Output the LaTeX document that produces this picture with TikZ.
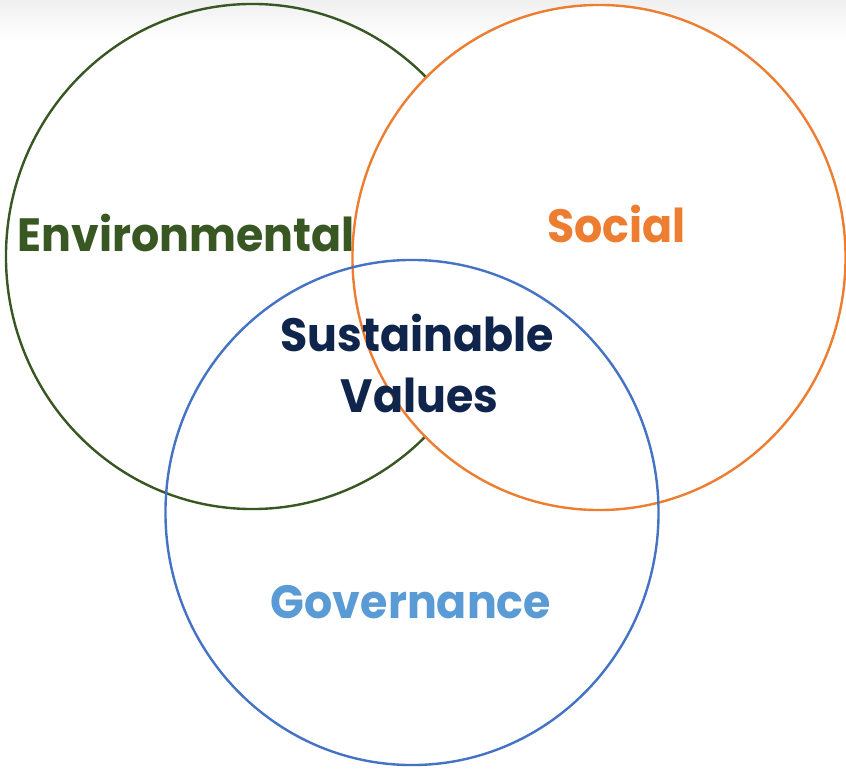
\documentclass[tikz,border=0pt]{standalone}
\usepackage{fontspec}
\setmainfont[FakeStretch=0.95]{Poppins}
\usetikzlibrary{positioning, shapes.geometric}
\definecolor{envg}{RGB}{56,87,35}
\definecolor{soco}{RGB}{237,125,49}
\definecolor{govl}{RGB}{91,155,213}
\definecolor{govd}{RGB}{68,114,196}
\definecolor{navyb}{RGB}{15,37,75}

\begin{document}
\begin{tikzpicture}[x=0.75pt, y=-0.75pt,
    ring/.style={ellipse, draw, line width=1.8pt, minimum width=369.8pt,
      minimum height=378.8pt, inner sep=0pt},
    lbl/.style={anchor=base, font=\fontsize{35}{42}\selectfont\bfseries, align=center}]
  \fill[white] (0,0) rectangle (846,770);
  \shade[top color=black!6, bottom color=white] (0,0) rectangle (846,40);
  \useasboundingbox (0,0) rectangle (846,770);
  % the three rings
  \node [ring, envg] (envring) at (252.5,256.5) {};
  \node [ring, soco, fill=white] (socring) at (599,257.5) {};
  \node [ring, govd] (govring) at (412,512.5) {};
  % labels
  \node [lbl, envg] (envtxt) at (186.5,251) {Environmental};
  \node [lbl, soco] (soctxt) at (616.5,243) {Social};
  \node [lbl, navyb] (sustxt) at (417,351) {Sustainable};
  \node [lbl, navyb] (valtxt) at (419.5,412) {Values};
  \node [lbl, govl] (govtxt) at (411,618) {Governance};
\end{tikzpicture}
\end{document}
